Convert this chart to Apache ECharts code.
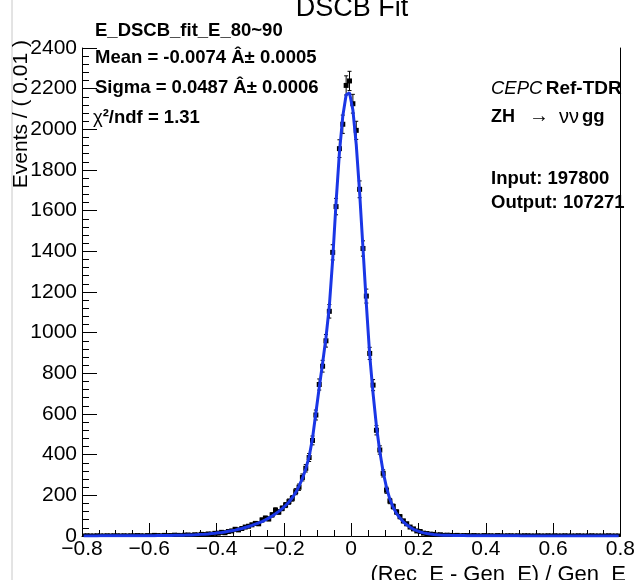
<!DOCTYPE html>
<html>
<head>
<meta charset="utf-8">
<script src="https://cdn.jsdelivr.net/npm/echarts@6/dist/echarts.min.js"></script>
<style>
html,body{margin:0;padding:0;background:#fff;}
#main{width:638px;height:580px;}
</style>
</head>
<body>
<div id="main"></div>
<script>
// ---- data ----
const binCenters = [
-0.795,-0.785,-0.775,-0.765,-0.755,-0.745,-0.735,-0.725,-0.715,-0.705,
-0.695,-0.685,-0.675,-0.665,-0.655,-0.645,-0.635,-0.625,-0.615,-0.605,
-0.595,-0.585,-0.575,-0.565,-0.555,-0.545,-0.535,-0.525,-0.515,-0.505,
-0.495,-0.485,-0.475,-0.465,-0.455,-0.445,-0.435,-0.425,-0.415,-0.405,
-0.395,-0.385,-0.375,-0.365,-0.355,-0.345,-0.335,-0.325,-0.315,-0.305,
-0.295,-0.285,-0.275,-0.265,-0.255,-0.245,-0.235,-0.225,-0.215,-0.205,
-0.195,-0.185,-0.175,-0.165,-0.155,-0.145,-0.135,-0.125,-0.115,-0.105,
-0.095,-0.085,-0.075,-0.065,-0.055,-0.045,-0.035,-0.025,-0.015,-0.005,
0.005,0.015,0.025,0.035,0.045,0.055,0.065,0.075,0.085,0.095,
0.105,0.115,0.125,0.135,0.145,0.155,0.165,0.175,0.185,0.195,
0.205,0.215,0.225,0.235,0.245,0.255,0.265,0.275,0.285,0.295,
0.305,0.315,0.325,0.335,0.345,0.355,0.365,0.375,0.385,0.395,
0.405,0.415,0.425,0.435,0.445,0.455,0.465,0.475,0.485,0.495,
0.505,0.515,0.525,0.535,0.545,0.555,0.565,0.575,0.585,0.595,
0.605,0.615,0.625,0.635,0.645,0.655,0.665,0.675,0.685,0.695,
0.705,0.715,0.725,0.735,0.745,0.755,0.765,0.775,0.785,0.795
];
const eventCounts = [
0,1,0,0,1,0,0,1,0,1,
1,0,1,0,1,1,2,1,0,2,
1,3,2,1,3,2,2,4,3,2,
4,5,3,6,5,8,7,10,9,13,
14,18,16,22,25,33,30,37,44,48,
55,62,60,79,88,84,104,127,118,136,
152,169,185,218,240,288,333,386,470,595,
745,835,960,1105,1395,1620,1905,2025,2216,2238,
2126,1995,1705,1414,1180,898,742,520,423,308,
225,172,145,118,95,74,60,44,35,25,
22,14,12,9,8,5,6,3,4,3,
2,3,1,2,2,1,2,1,0,2,
1,1,0,2,1,0,1,1,0,1,
0,1,1,0,0,1,0,0,1,0,
1,0,0,1,0,0,0,1,0,0,
0,1,0,0,0,0,1,0,0,0
];
const fitCurve = [
0.5,0.52,0.55,0.58,0.6,0.63,0.67,0.7,0.75,0.8,
0.85,0.9,0.95,1,1.05,1.1,1.2,1.3,1.4,1.5,
1.6,1.8,2,2.2,2.4,2.7,3,3.3,3.6,3.9,
4.3,4.9,5.5,6.2,7,8,9.1,10.3,11.8,13.5,
15.5,17.5,20,23,26,29,33,37,42,47,
52,58,64,71,79,88,98,109,121,135,
150,167,188,213,245,283,330,390,480,605,
730,850,975,1130,1360,1640,1885,2065,2170,2180,
2095,1925,1690,1415,1140,890,700,540,415,315,
238,180,140,110,88,70,55,43,33,26,
20,15.5,12,9.5,7.5,6,5,4.2,3.6,3.1,
2.7,2.4,2.1,1.9,1.7,1.5,1.4,1.3,1.2,1.1,
1.0,0.95,0.9,0.85,0.8,0.76,0.72,0.68,0.65,0.62,
0.59,0.56,0.53,0.5,0.48,0.46,0.44,0.42,0.4,0.38,
0.36,0.35,0.33,0.32,0.3,0.29,0.28,0.27,0.26,0.25,
0.24,0.23,0.22,0.21,0.2,0.19,0.18,0.18,0.17,0.16
];
const binWidth = 0.01;
const xTicks = [-0.8,-0.6,-0.4,-0.2,0,0.2,0.4,0.6,0.8];
const yTicks = [0,200,400,600,800,1000,1200,1400,1600,1800,2000,2200,2400];

// ---- chart ----
const FF = '"Liberation Sans", Arial, Helvetica, sans-serif';
const chart = echarts.init(document.getElementById('main'), null, {renderer:'canvas'});
const dataPts = binCenters.map((x,i)=>[x, eventCounts[i]]);
const curvePts = binCenters.map((x,i)=>[x, fitCurve[i]]);
const txt = (s, x, y, size, bold, extra) => Object.assign({type:'text', x:x, y:y,
  style:Object.assign({text:s, fontSize:size, fontWeight:bold?'bold':'normal', fontFamily:FF, fill:'#000', verticalAlign:'middle'}, extra||{})});

const option = {
  animation:false,
  backgroundColor:'#fff',
  grid:{left:82, right:11, top:48, bottom:44, show:false},
  xAxis:{
    type:'value', min:xTicks[0], max:xTicks[xTicks.length-1], interval:0.2,
    axisLine:{show:true, onZero:false, lineStyle:{color:'#000', width:1}},
    axisTick:{show:true, inside:true, length:13, lineStyle:{color:'#000'}},
    minorTick:{show:true, splitNumber:4, length:6, lineStyle:{color:'#000'}},
    splitLine:{show:false},
    axisLabel:{fontSize:21, color:'#000', fontFamily:FF, margin:3, showMaxLabel:true, showMinLabel:true,
      formatter:v=> Math.abs(v)<1e-9 ? '0' : (v<0 ? '\u2212' + Math.abs(v).toFixed(1) : v.toFixed(1))}
  },
  yAxis:[{
    type:'value', min:yTicks[0], max:yTicks[yTicks.length-1], interval:200,
    axisLine:{show:true, onZero:false, lineStyle:{color:'#000', width:1}},
    axisTick:{show:true, inside:true, length:15, lineStyle:{color:'#000'}},
    minorTick:{show:true, splitNumber:5, length:7, lineStyle:{color:'#000'}},
    splitLine:{show:false},
    axisLabel:{fontSize:21, color:'#000', fontFamily:FF, margin:5, formatter:v=>String(v)}
  },{
    type:'value', position:'right', min:yTicks[0], max:yTicks[yTicks.length-1],
    axisLine:{show:true, onZero:false, lineStyle:{color:'#000', width:1}},
    axisTick:{show:false}, axisLabel:{show:false}, splitLine:{show:false}
  }],
  series:[
    {
      type:'custom',
      z:2,
      data:dataPts,
      clip:true,
      renderItem:function(params, api){
        const x = api.value(0), y = api.value(1);
        const e = Math.sqrt(y);
        const c = api.coord([x,y]);
        const l = api.coord([x-binWidth/2,y]);
        const r = api.coord([x+binWidth/2,y]);
        const t = api.coord([x,y+e]);
        const b = api.coord([x,Math.max(0,y-e)]);
        const st = {stroke:'#000', lineWidth:1};
        return {type:'group', children:[
          {type:'line', shape:{x1:l[0],y1:l[1],x2:r[0],y2:r[1]}, style:st},
          {type:'line', shape:{x1:t[0],y1:t[1],x2:b[0],y2:b[1]}, style:st},
          {type:'line', shape:{x1:t[0]-2,y1:t[1],x2:t[0]+2,y2:t[1]}, style:st},
          {type:'line', shape:{x1:b[0]-2,y1:b[1],x2:b[0]+2,y2:b[1]}, style:st},
          {type:'rect', shape:{x:c[0]-2.5,y:c[1]-2.5,width:5,height:5}, style:{fill:'#000'}}
        ]};
      }
    },
    {
      type:'line', z:3, data:curvePts, showSymbol:false, smooth:false,
      lineStyle:{color:'#1a36e6', width:3}
    }
  ],
  graphic:[
    {type:'line', shape:{x1:12,y1:0,x2:12,y2:580}, style:{stroke:'#c8c8c8', lineWidth:1}, z:0},
    txt('DSCB Fit', 352, 9, 27, false, {align:'center'}),
    txt('E_DSCB_fit_E_80~90', 95, 31, 18.5, true),
    txt('Mean = -0.0074 Â± 0.0005', 95, 58, 18.5, true),
    txt('Sigma = 0.0487 Â± 0.0006', 95, 88, 18.5, true),
    {type:'text', x:93, y:118, style:{text:'{g|χ}{b|²/ndf = 1.31}', fontFamily:FF, fill:'#000', verticalAlign:'middle',
      rich:{g:{fontSize:18.5, fontFamily:FF}, b:{fontSize:18.5, fontWeight:'bold', fontFamily:FF}}}},
    {type:'text', x:491, y:89, style:{text:'{i|CEPC} {b|Ref-TDR}', fontFamily:FF, fill:'#000', verticalAlign:'middle',
      rich:{i:{fontSize:18.5, fontStyle:'italic', fontFamily:FF}, b:{fontSize:19, fontWeight:'bold', fontFamily:FF}}}},
    txt('ZH', 491, 117, 18, true),
    txt('→', 529, 116, 20, false),
    txt('νν', 559, 117, 20, false),
    txt('gg', 582, 117, 18.5, true),
    txt('Input: 197800', 491, 179, 18.5, true),
    txt('Output: 107271', 491, 203, 18.5, true),
    txt('Events / ( 0.01 )', 0, 0, 21, false, {align:'right'}),
    txt('(Rec_E - Gen_E) / Gen_E', 626, 575, 22, false, {align:'right'})
  ]
};
// rotated y-axis title
option.graphic[13].x = 21; option.graphic[13].y = 40; option.graphic[13].rotation = Math.PI/2;
chart.setOption(option);
</script>
</body>
</html>
